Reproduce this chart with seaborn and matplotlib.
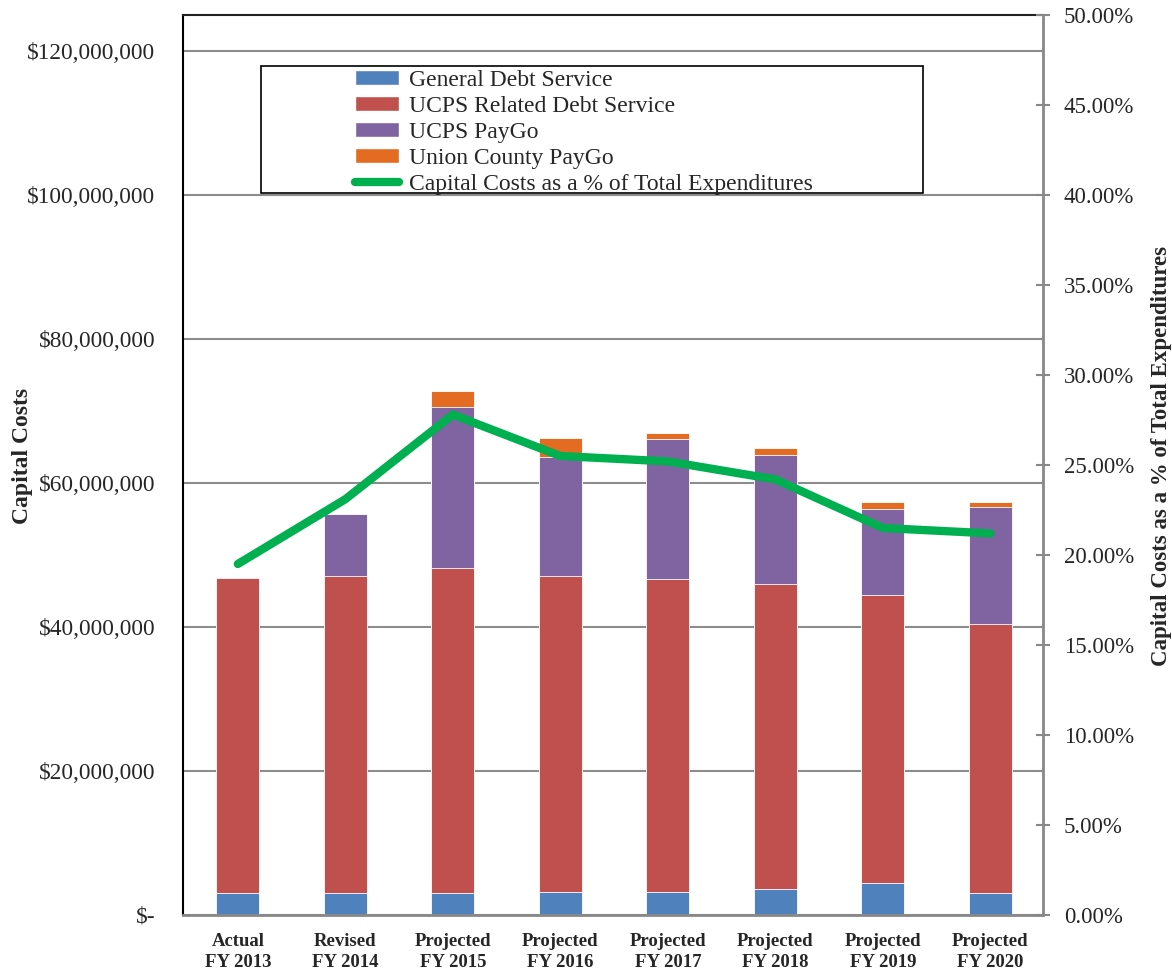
import numpy as np
import pandas as pd
import matplotlib.pyplot as plt
import seaborn as sns
from matplotlib.patches import Patch, Rectangle
from matplotlib.lines import Line2D
from matplotlib.ticker import FuncFormatter, MultipleLocator

# values, in $ millions
years = ['Actual\nFY 2013', 'Revised\nFY 2014', 'Projected\nFY 2015', 'Projected\nFY 2016',
         'Projected\nFY 2017', 'Projected\nFY 2018', 'Projected\nFY 2019', 'Projected\nFY 2020']
general_debt = [3.0, 3.0, 3.0, 3.25, 3.25, 3.6, 4.5, 3.0]
ucps_debt = [43.8, 44.1, 45.15, 43.85, 43.45, 42.4, 40.0, 37.45]
ucps_paygo = [0.0, 8.55, 22.45, 16.5, 19.4, 17.85, 11.85, 16.15]
county_paygo = [0.0, 0.0, 2.2, 2.65, 0.8, 0.95, 0.95, 0.7]
pct_of_total = [19.5, 23.1, 27.8, 25.5, 25.2, 24.2, 21.5, 21.2]

series_names = ['General Debt Service', 'UCPS Related Debt Service', 'UCPS PayGo', 'Union County PayGo']
line_name = 'Capital Costs as a % of Total Expenditures'
colors = ['#4F81BD', '#C0504D', '#8064A2', '#E46C22']
green = '#00B050'

df = pd.DataFrame({'year': years,
                   'general': np.array(general_debt) * 1e6,
                   'ucps_debt': np.array(ucps_debt) * 1e6,
                   'ucps_paygo': np.array(ucps_paygo) * 1e6,
                   'county_paygo': np.array(county_paygo) * 1e6})
cols = ['general', 'ucps_debt', 'ucps_paygo', 'county_paygo']
# cumulative heights so the overlaid bars look stacked
stack = df[cols].cumsum(axis=1)
stack['year'] = df['year']

sns.set_style('white')
plt.rcParams['font.family'] = ['Liberation Serif', 'DejaVu Serif']

fig = plt.figure(figsize=(11.72, 9.74), dpi=100)
ax = fig.add_axes([183 / 1172, 59 / 974, 860 / 1172, 900 / 974])

for col, c in reversed(list(zip(cols, colors))):
    sns.barplot(data=stack, x='year', y=col, color=c, saturation=1, width=0.4,
                edgecolor='white', linewidth=0.6, errorbar=None, ax=ax, zorder=2)

ax.set_xlim(-0.51, 7.49)
ax.set_ylim(0, 125e6)
ax.yaxis.set_major_locator(MultipleLocator(20e6))
ax.yaxis.set_major_formatter(FuncFormatter(lambda v, p: '$-' if v == 0 else f'${v:,.0f}'))
ax.yaxis.grid(True, color='#8c8c8c', lw=1.5)
ax.set_axisbelow(True)
ax.tick_params(axis='y', length=0, pad=20, labelsize=16.8)
ax.tick_params(axis='x', length=0, pad=13, labelsize=13.5)
for t in ax.get_xticklabels():
    t.set_fontweight('bold')
    t.set_linespacing(1.3)
ax.set_xlabel('')
ax.set_ylabel('Capital Costs', fontsize=17, fontweight='bold')
ax.yaxis.set_label_coords(-0.174, 0.51)

ax.spines['left'].set_color('black')
ax.spines['left'].set_linewidth(1.5)
ax.spines['top'].set_color('#222222')
ax.spines['top'].set_linewidth(1.5)
ax.spines['bottom'].set_color('#888888')
ax.spines['bottom'].set_linewidth(2)
ax.spines['right'].set_visible(False)

ax2 = ax.twinx()
sns.lineplot(x=np.arange(len(years)), y=pct_of_total, ax=ax2, color=green, lw=6,
             sort=False, legend=False, solid_capstyle='round')
ax2.set_ylim(0, 50)
ax2.yaxis.set_major_locator(MultipleLocator(5))
ax2.yaxis.set_major_formatter(FuncFormatter(lambda v, p: f'{v:.2f}%'))
ax2.tick_params(axis='y', direction='inout', length=10, width=1.5, color='#888888',
                pad=10, labelsize=16.5)
ax2.set_ylabel(line_name, fontsize=16.5, fontweight='bold')
ax2.yaxis.set_label_coords(1.125, 0.51)
for s in ['left', 'top', 'bottom']:
    ax2.spines[s].set_visible(False)
ax2.spines['right'].set_color('#888888')
ax2.spines['right'].set_linewidth(2)

# legend with a wide plain frame like the original
ax2.add_patch(Rectangle((0.0907, 0.802), 0.7698, 0.141, transform=ax2.transAxes,
                        facecolor='white', edgecolor='black', lw=1.2, zorder=3))
handles = [Patch(facecolor=c) for c in colors]
handles.append(Line2D([], [], color=green, lw=6, solid_capstyle='round'))
leg = ax2.legend(handles, series_names + [line_name], loc='upper left',
                 bbox_to_anchor=(0.2, 0.939), frameon=False, fontsize=17,
                 handlelength=1.87, handleheight=0.55, handletextpad=0.42,
                 labelspacing=0.21, borderpad=0, borderaxespad=0)
leg.set_zorder(4)

fig.savefig('out.png', dpi=100)
